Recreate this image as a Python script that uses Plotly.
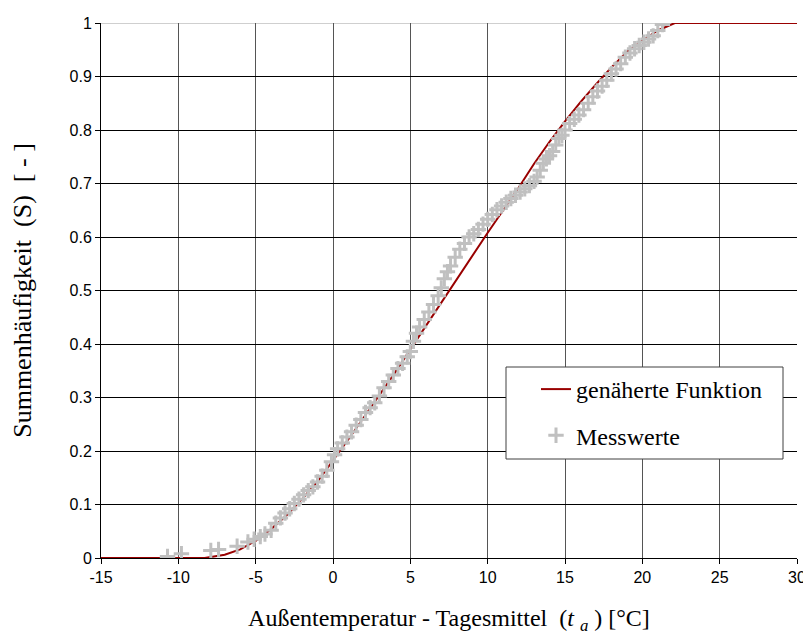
import plotly.graph_objects as go

# Measured values (Messwerte): daily mean outdoor temperature vs cumulative frequency
mess_t = [-10.7, -9.8, -7.9, -7.4, -6.2, -5.5, -5.1, -4.7, -4.4, -4.0, -3.7, -3.4, -3.1, -2.8,
          -2.5, -2.2, -1.9, -1.6, -1.3, -1.0, -0.7, -0.4, -0.1, 0.1, 0.3, 0.6, 0.9, 1.2, 1.5,
          1.8, 2.1, 2.4, 2.7, 3.0, 3.3, 3.6, 3.9, 4.2, 4.5, 4.8, 5.0, 5.2, 5.4, 5.6, 5.9, 6.2,
          6.5, 6.8, 7.0, 7.2, 7.4, 7.6, 7.9, 8.2, 8.5, 8.8, 9.1, 9.4, 9.7, 10.0, 10.3, 10.6,
          10.9, 11.2, 11.5, 11.8, 12.1, 12.4, 12.7, 13.0, 13.2, 13.4, 13.6, 13.8, 14.0, 14.2,
          14.4, 14.6, 14.8, 15.0, 15.3, 15.6, 15.9, 16.2, 16.5, 16.8, 17.1, 17.4, 17.7, 18.0,
          18.3, 18.6, 18.9, 19.2, 19.5, 19.8, 20.1, 20.4, 20.7, 21.0, 21.3]
mess_s = [0.003, 0.008, 0.014, 0.016, 0.022, 0.030, 0.035, 0.040, 0.045, 0.052, 0.065, 0.075,
          0.084, 0.092, 0.102, 0.110, 0.118, 0.126, 0.133, 0.142, 0.153, 0.164, 0.180, 0.193,
          0.204, 0.215, 0.226, 0.236, 0.248, 0.259, 0.272, 0.281, 0.290, 0.303, 0.318, 0.330,
          0.342, 0.354, 0.364, 0.376, 0.386, 0.405, 0.420, 0.432, 0.446, 0.460, 0.474, 0.490,
          0.505, 0.522, 0.535, 0.546, 0.562, 0.577, 0.588, 0.600, 0.606, 0.614, 0.624, 0.633,
          0.642, 0.651, 0.658, 0.665, 0.672, 0.678, 0.684, 0.690, 0.696, 0.704, 0.712, 0.725,
          0.738, 0.746, 0.752, 0.760, 0.772, 0.784, 0.790, 0.800, 0.812, 0.820, 0.828, 0.838,
          0.850, 0.862, 0.873, 0.882, 0.893, 0.905, 0.914, 0.924, 0.936, 0.944, 0.952, 0.958,
          0.964, 0.970, 0.976, 0.986, 0.997]

# Approximated function (genäherte Funktion)
fkt_t = [-15, -8.3, -7, -6, -5, -4, -3, -2, -1, 0, 1, 2, 3, 4, 5, 6, 7, 8, 9, 10, 11, 12,
         13, 14, 15, 16, 17, 18, 19, 20, 21, 22.1, 30]
fkt_s = [0, 0, 0.006, 0.016, 0.032, 0.054, 0.08, 0.11, 0.143, 0.182, 0.222, 0.263, 0.304,
         0.346, 0.39, 0.434, 0.477, 0.522, 0.565, 0.608, 0.65, 0.692, 0.737, 0.778, 0.816,
         0.852, 0.885, 0.917, 0.946, 0.967, 0.986, 1.0, 1.0]

x_ticks = [-15, -10, -5, 0, 5, 10, 15, 20, 25, 30]
x_ticklabels = ["-15", "-10", "-5", "0", "5", "10", "15", "20", "25", "30"]
y_ticks = [0, 0.1, 0.2, 0.3, 0.4, 0.5, 0.6, 0.7, 0.8, 0.9, 1]
y_ticklabels = ["0", "0.1", "0.2", "0.3", "0.4", "0.5", "0.6", "0.7", "0.8", "0.9", "1"]

serif = "Liberation Serif, Times New Roman, serif"
sans = "Liberation Sans, Arial, sans-serif"
NB = "\u00a0"

# page has an 8px body margin; figure is sized to fit the window
W, H = 803, 627
L, T = 93, 15
PW, PH = 696, 535

fig = go.Figure()
fig.add_trace(go.Scatter(
    x=fkt_t, y=fkt_s, mode="lines", name="genäherte Funktion",
    line=dict(color="#990000", width=2), legendgroup="a"))
fig.add_trace(go.Scatter(
    x=mess_t, y=mess_s, mode="markers", name="Messwerte",
    marker=dict(symbol="cross-thin", size=11, line=dict(color="#C0C0C0", width=3),
                color="#C0C0C0"),
    legendgroup="b"))

def px_x(sx):  # screen px -> paper x
    return (sx - 8 - L) / PW

def px_y(sy):  # screen px -> paper y
    return (T + PH - (sy - 8)) / PH

# legend frame
fig.add_shape(type="rect", xref="paper", yref="paper",
              x0=px_x(506), x1=px_x(783), y0=px_y(459), y1=px_y(367),
              line=dict(color="#404040", width=1), fillcolor="white", layer="above")
# gray top border line at S = 1
fig.add_shape(type="line", xref="paper", yref="y", x0=0, x1=1, y0=1, y1=1,
              line=dict(color="#A0A0A0", width=1), layer="between")

fig.update_layout(
    width=W, height=H,
    margin=dict(l=L, r=W - L - PW, t=T, b=H - T - PH, autoexpand=False),
    paper_bgcolor="white", plot_bgcolor="white",
    showlegend=True,
    legend=dict(x=px_x(536), y=px_y(367), xanchor="left", yanchor="top",
                bgcolor="rgba(0,0,0,0)", borderwidth=0,
                font=dict(family=serif, size=24, color="black"),
                tracegroupgap=12, traceorder="grouped"),
    xaxis=dict(range=[-15, 30], tickvals=x_ticks, ticktext=x_ticklabels, ticks="outside",
               ticklen=5, tickcolor="black", showline=True, linecolor="black", linewidth=1,
               showgrid=True, gridcolor="#555555", gridwidth=1, zeroline=False,
               automargin=False,
               tickfont=dict(family=sans, size=16, color="black"),
               title=dict(text="Außentemperatur - Tagesmittel" + NB + NB + "(<i>t</i>" + NB +
                          "<sub><i>a</i></sub>" + NB + ") [°C]",
                          font=dict(family=serif, size=24, color="black"), standoff=27)),
    yaxis=dict(range=[0, 1], tickvals=y_ticks, ticktext=y_ticklabels, ticks="outside",
               ticklen=5, tickcolor="black", showline=True, linecolor="black", linewidth=1,
               showgrid=True, gridcolor="black", gridwidth=1, zeroline=False,
               automargin=False,
               tickfont=dict(family=sans, size=16, color="black"),
               title=dict(text="Summenhäufigkeit" + NB + NB + "(S)" + NB + NB + "[" + NB + "-" + NB + "]",
                          font=dict(family=serif, size=26, color="black"), standoff=30)),
)

fig.write_html("out.html")
